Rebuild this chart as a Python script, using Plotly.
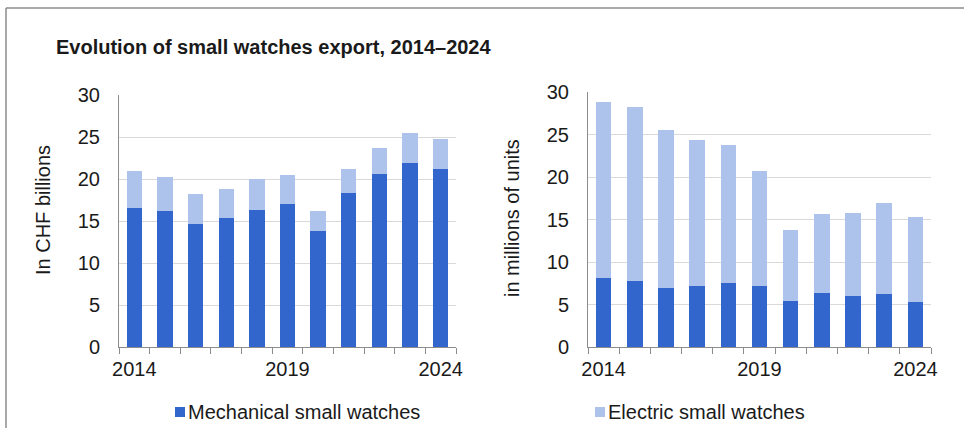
import plotly.graph_objects as go

# Swiss small-watch exports, 2014-2024
years = [2014, 2015, 2016, 2017, 2018, 2019, 2020, 2021, 2022, 2023, 2024]

# Export value, CHF billions
value_mechanical = [16.5, 16.25, 14.65, 15.35, 16.3, 17.05, 13.8, 18.35, 20.55, 21.95, 21.2]
value_electric = [4.5, 3.95, 3.6, 3.45, 3.65, 3.4, 2.35, 2.8, 3.1, 3.55, 3.55]

# Export volume, millions of units
units_mechanical = [8.1, 7.8, 6.9, 7.2, 7.55, 7.2, 5.45, 6.3, 5.95, 6.2, 5.3]
units_electric = [20.7, 20.45, 18.6, 17.2, 16.25, 13.5, 8.35, 9.4, 9.8, 10.75, 10.0]

series_names = ["Mechanical small watches", "Electric small watches"]
year_ticks = [2014, 2019, 2024]

W, H = 964, 428
MECH_COLOR = "#3366CC"
ELEC_COLOR = "#AEC3EB"
FONT = "Liberation Sans, Arial, sans-serif"
TEXT_COLOR = "#1a1a1a"
AXIS_COLOR = "#8c8c8c"
GRID_COLOR = "#d9d9d9"


def px_x(x):
    return x / W


def px_y(y):
    return 1 - y / H


fig = go.Figure()

panels = [
    ("x", "y", value_mechanical, value_electric),
    ("x2", "y2", units_mechanical, units_electric),
]
for xa, ya, mech, elec in panels:
    fig.add_trace(go.Bar(
        x=years, y=mech, name=series_names[0], xaxis=xa, yaxis=ya,
        marker=dict(color=MECH_COLOR, line=dict(width=0)),
        width=0.5, showlegend=False,
    ))
    fig.add_trace(go.Bar(
        x=years, y=elec, name=series_names[1], xaxis=xa, yaxis=ya,
        marker=dict(color=ELEC_COLOR, line=dict(width=0)),
        width=0.5, showlegend=False,
    ))

xaxis_style = dict(
    range=[years[0] - 0.5, years[-1] + 0.5],
    tickmode="array", tickvals=year_ticks, ticktext=[str(v) for v in year_ticks],
    ticks="", showgrid=False, zeroline=False,
    showline=True, linecolor=AXIS_COLOR, linewidth=1,
    tickfont=dict(size=20, color=TEXT_COLOR, family=FONT),
    ticklabelstandoff=4,
    minor=dict(ticks="outside", ticklen=6, tickcolor=AXIS_COLOR, tickwidth=1,
               tickmode="linear", tick0=years[0] - 0.5, dtick=1, showgrid=False),
    automargin=False, fixedrange=True,
)
yaxis_style = dict(
    range=[0, 30], tickmode="linear", tick0=0, dtick=5,
    ticks="", showgrid=True, gridcolor=GRID_COLOR, gridwidth=1, zeroline=False,
    showline=True, linecolor=AXIS_COLOR, linewidth=1,
    tickfont=dict(size=20, color=TEXT_COLOR, family=FONT),
    ticklabelstandoff=14,
    automargin=False, fixedrange=True,
)

# Legend drawn as colour swatches with labels below the two panels
legend_items = [(series_names[0], MECH_COLOR, 175), (series_names[1], ELEC_COLOR, 595)]
legend_shapes = []
legend_notes = []
for label, color, x0 in legend_items:
    legend_shapes.append(dict(
        type="rect", xref="paper", yref="paper",
        x0=px_x(x0), x1=px_x(x0 + 10), y0=px_y(417), y1=px_y(407),
        fillcolor=color, line=dict(width=0),
    ))
    legend_notes.append(dict(
        text=label, xref="paper", yref="paper",
        x=px_x(x0 + 11), y=px_y(412), xanchor="left", yanchor="middle",
        showarrow=False, font=dict(size=20, color=TEXT_COLOR, family=FONT),
    ))

fig.update_layout(
    width=W, height=H,
    margin=dict(l=0, r=0, t=0, b=0, pad=0, autoexpand=False),
    paper_bgcolor="white", plot_bgcolor="white",
    barmode="stack", bargap=0.5, showlegend=False,
    font=dict(family=FONT, size=20, color=TEXT_COLOR),
    xaxis=dict(domain=[px_x(119), px_x(456)], anchor="y", **xaxis_style),
    yaxis=dict(domain=[px_y(347), px_y(95)], anchor="x", **yaxis_style),
    xaxis2=dict(domain=[px_x(588), px_x(931)], anchor="y2", **xaxis_style),
    yaxis2=dict(domain=[px_y(347), px_y(92)], anchor="x2", **yaxis_style),
    title=dict(
        text="<b>Evolution of small watches export, 2014–2024</b>",
        x=px_x(56), xanchor="left", y=px_y(47), yanchor="middle",
        font=dict(size=20, color=TEXT_COLOR, family=FONT),
    ),
    annotations=[
        dict(text="In CHF billions", xref="paper", yref="paper",
             x=px_x(43), y=px_y(210), textangle=-90, showarrow=False,
             xanchor="center", yanchor="middle",
             font=dict(size=20, color=TEXT_COLOR, family=FONT)),
        dict(text="in millions of units", xref="paper", yref="paper",
             x=px_x(512), y=px_y(218), textangle=-90, showarrow=False,
             xanchor="center", yanchor="middle",
             font=dict(size=20, color=TEXT_COLOR, family=FONT)),
    ] + legend_notes,
    shapes=[
        dict(type="line", xref="paper", yref="paper",
             x0=px_x(6), x1=px_x(6), y0=0, y1=px_y(8),
             line=dict(color=AXIS_COLOR, width=1.5)),
        dict(type="line", xref="paper", yref="paper",
             x0=px_x(6), x1=1, y0=px_y(8), y1=px_y(8),
             line=dict(color=AXIS_COLOR, width=1.5)),
    ] + legend_shapes,
)

fig.write_html("out.html")
